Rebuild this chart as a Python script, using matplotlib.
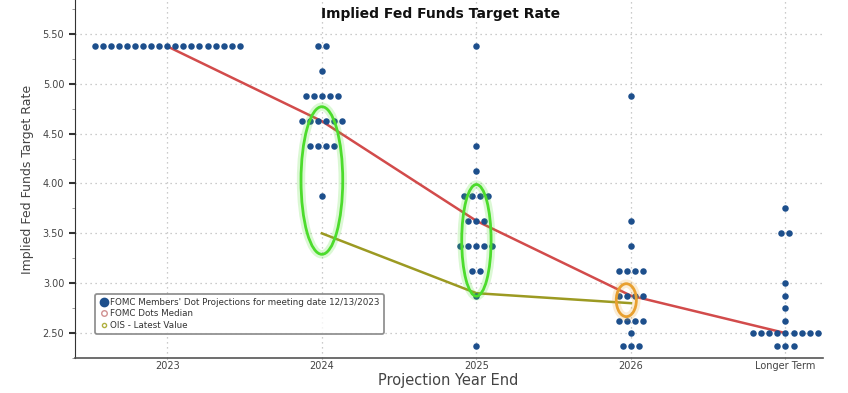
import numpy as np
import matplotlib.pyplot as plt
from matplotlib.lines import Line2D
from matplotlib.patches import Ellipse

# categorias y puntos del FOMC (tasa: cantidad de miembros)
categorias = ['2023', '2024', '2025', '2026', 'Longer Term']
dots_2023 = {5.375: 19}
dots_2024 = {5.375: 2, 5.125: 1, 4.875: 5, 4.625: 6, 4.375: 4, 3.875: 1}
dots_2025 = {5.375: 1, 4.375: 1, 4.125: 1, 3.875: 4, 3.625: 3, 3.375: 5,
             3.125: 2, 2.875: 1, 2.375: 1}
dots_2026 = {4.875: 1, 3.625: 1, 3.375: 1, 3.125: 4, 2.875: 4, 2.625: 4,
             2.5: 1, 2.375: 3}
dots_lt = {3.75: 1, 3.5: 2, 3.0: 1, 2.875: 1, 2.75: 1, 2.625: 1, 2.5: 9,
           2.375: 3}
todos = [dots_2023, dots_2024, dots_2025, dots_2026, dots_lt]

mediana = [5.375, 4.625, 3.625, 2.875, 2.5]
ois_x = [1, 2, 3]
ois = [3.5, 2.9, 2.8]

azul = '#1d4f8c'

fig = plt.figure(figsize=(8.48, 3.93), dpi=100)
ax = fig.add_axes([0.088, 0.089, 0.882, 0.911])

# puntos
sep = 0.052
for i, d in enumerate(todos):
    for tasa, n in d.items():
        xs = i + (np.arange(n) - (n - 1) / 2) * sep
        ax.scatter(xs, [tasa] * n, s=22, color=azul, zorder=3, linewidths=0)

# linea de medianas y OIS
ax.plot(range(len(mediana)), mediana, color='#d24b4b', lw=1.8, zorder=2)
ax.plot(ois_x, ois, color='#9c9a22', lw=1.8, zorder=2)

# elipses resaltadas
for (cx, cy, w, h, c) in [(1.0, 4.03, 0.27, 1.48, '#4cdc2c'),
                          (2.0, 3.43, 0.19, 1.12, '#4cdc2c'),
                          (2.97, 2.83, 0.13, 0.33, '#e8a030')]:
    ax.add_patch(Ellipse((cx, cy), w, h, fill=False, edgecolor=c, lw=6, alpha=0.2, zorder=4))
    ax.add_patch(Ellipse((cx, cy), w, h, fill=False, edgecolor=c, lw=2, zorder=4))

ax.set_xlim(-0.6, 4.24)
ax.set_ylim(2.25, 5.84)
ax.set_xticks(range(len(categorias)))
ax.set_xticklabels(categorias, fontsize=7, color='#444444')
ax.set_yticks([2.5, 3.0, 3.5, 4.0, 4.5, 5.0, 5.5])
ax.set_yticklabels(['%.2f' % v for v in [2.5, 3.0, 3.5, 4.0, 4.5, 5.0, 5.5]],
                   fontsize=7, color='#444444')
ax.set_yticks(np.arange(2.25, 5.8, 0.25), minor=True)
ax.tick_params(axis='y', which='major', length=4, width=1.5, color='#333333')
ax.tick_params(axis='y', which='minor', length=2, color='#888888')
ax.tick_params(axis='x', length=1, pad=1.5, color='#888888')
ax.grid(True, ls=(0, (1, 3)), color='#bbbbbb', lw=0.9)
ax.set_axisbelow(True)
for lado in ['top', 'right']:
    ax.spines[lado].set_visible(False)
ax.spines['left'].set_color('#333333')
ax.spines['bottom'].set_color('#555555')
ax.spines['bottom'].set_linewidth(1.2)

ax.set_ylabel('Implied Fed Funds Target Rate', fontsize=9, color='#444444', labelpad=6)
ax.set_xlabel('Projection Year End', fontsize=10.5, color='#444444', labelpad=1)
fig.text(0.52, 0.965, 'Implied Fed Funds Target Rate', ha='center', va='center',
         fontsize=10, fontweight='bold', color='#111111')

handles = [
    Line2D([], [], ls='none', marker='o', ms=6, color=azul),
    Line2D([], [], ls='none', marker='o', ms=4, mfc='white', mec='#d09090'),
    Line2D([], [], ls='none', marker='o', ms=3, mfc='white', mec='#b0b040'),
]
etiquetas = ["FOMC Members' Dot Projections for meeting date 12/13/2023",
             'FOMC Dots Median', 'OIS - Latest Value']
leg = ax.legend(handles, etiquetas, loc='lower left', bbox_to_anchor=(0.022, 0.055),
                fontsize=6.3, frameon=True, handletextpad=0.2, labelspacing=0.25,
                borderpad=0.5, handlelength=1.0, fancybox=True)
leg.get_frame().set_edgecolor('#777777')
leg.get_frame().set_linewidth(1.3)
for t in leg.get_texts():
    t.set_color('#333333')

fig.savefig('out.png', dpi=100)
